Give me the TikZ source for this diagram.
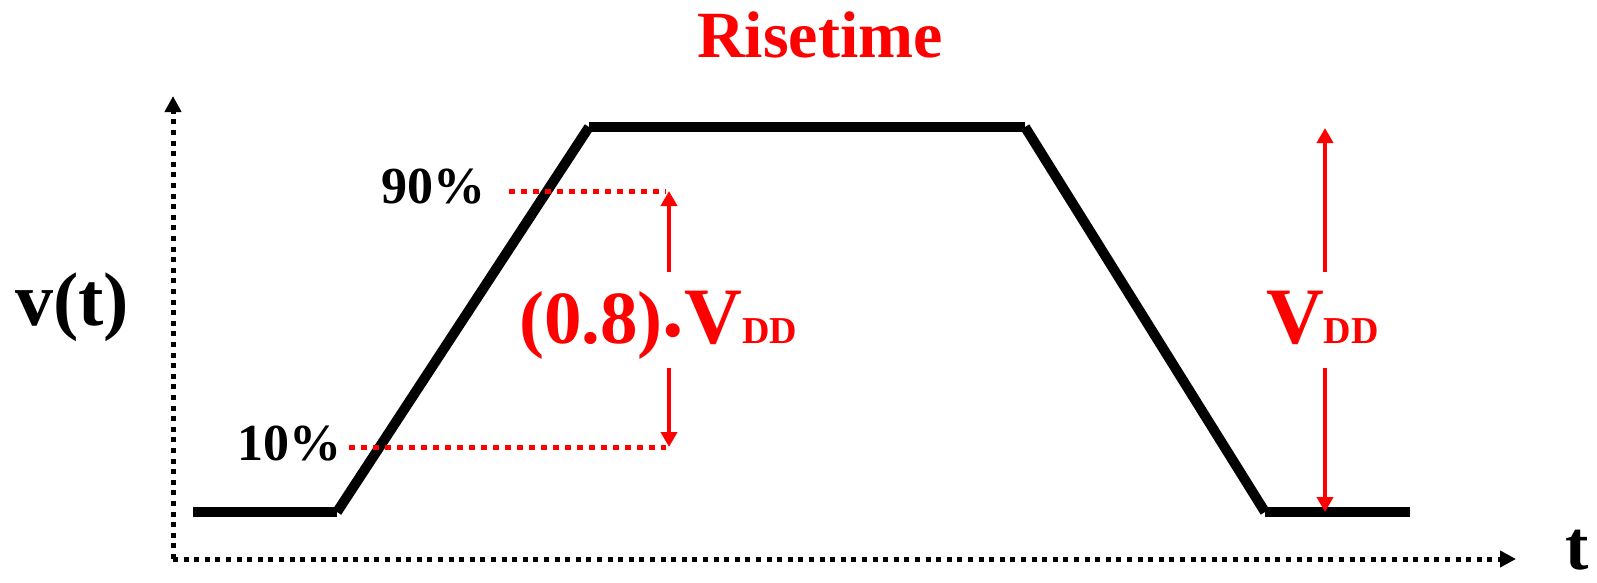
\documentclass[tikz,border=0pt]{standalone}
\usepackage{fontspec}
\setmainfont{Liberation Serif}
\usepackage{xcolor}
\usetikzlibrary{arrows.meta, positioning}
\definecolor{sigred}{RGB}{255, 0, 0}

\newcommand{\fs}[1]{\fontsize{#1}{#1}\selectfont}

\begin{document}
\begin{tikzpicture}[
  x=1pt, y=-1pt,
  lbl/.style={inner sep=0pt, anchor=base, font=\bfseries},
  wave/.style={line width=10pt, line cap=butt, black},
  axis/.style={line width=5pt, dash pattern=on 5pt off 5.6pt, -{Triangle[length=16pt,width=16pt]}},
  level/.style={line width=5pt, sigred, dash pattern=on 6pt off 6pt},
  meas/.style={line width=4.8pt, sigred, -{Triangle[length=15pt,width=16pt]}}
]
  \useasboundingbox (0,0) rectangle (1597,582);

  % Axes
  \coordinate (org) at (173,559);
  \coordinate (ytip) at (173,96);
  \coordinate (xtip) at (1516,559);
  \draw[axis] (org) -- (ytip);
  \draw[axis] (org) -- (xtip);

  % Waveform
  \coordinate (w1) at (193,512);
  \coordinate (w2) at (337,512);
  \coordinate (w3) at (589,127);
  \coordinate (w4) at (1025,127);
  \coordinate (w5) at (1265,512);
  \coordinate (w6) at (1410,512);
  \draw[wave] (w1) -- (w2);
  \draw[wave] (w2) -- (w3);
  \draw[wave] (w3) -- (w4);
  \draw[wave] (w4) -- (w5);
  \draw[wave] (w5) -- (w6);

  % Nodes
  \node[lbl, text=sigred, font=\bfseries\fs{66}] (title) at (820,57) {Risetime};
  \node[lbl, font=\bfseries\fs{76}] (vt) at (72,325) {v(t)};
  \node[lbl, font=\bfseries\fs{70}] (tt) at (1577,569) {t};
  \node[lbl, font=\bfseries\fs{52}] (p90) at (433,203) {90\%};
  \node[lbl, font=\bfseries\fs{52}] (p10) at (289,460) {10\%};
  \node[lbl, anchor=base west, text=sigred] (rise) at (519,343)
    {\fs{75}(0.8)\raisebox{6.5pt}{\fs{86}.}\fs{80}V\fs{38}DD};
  \node[lbl, anchor=base west, text=sigred] (vdd) at (1266,343)
    {\fs{80}V\fs{38}DD};

  % Levels
  \coordinate (l90a) at (509,191);
  \coordinate (l90b) at (666,191);
  \coordinate (l10a) at (349,447);
  \coordinate (l10b) at (666,447);
  \draw[level] (l90a) -- (l90b);
  \draw[level] (l10a) -- (l10b);

  % Arrows
  \coordinate (r1) at (669,272);
  \coordinate (r2) at (669,368);
  \coordinate (r90) at (669,191);
  \coordinate (r10) at (669,447);
  \draw[meas] (r1) -- (r90);
  \draw[meas] (r2) -- (r10);
  \coordinate (v1) at (1325,272);
  \coordinate (v2) at (1325,368);
  \coordinate (vtop) at (1325,128);
  \coordinate (vbot) at (1325,512);
  \draw[meas] (v1) -- (vtop);
  \draw[meas] (v2) -- (vbot);
\end{tikzpicture}
\end{document}
